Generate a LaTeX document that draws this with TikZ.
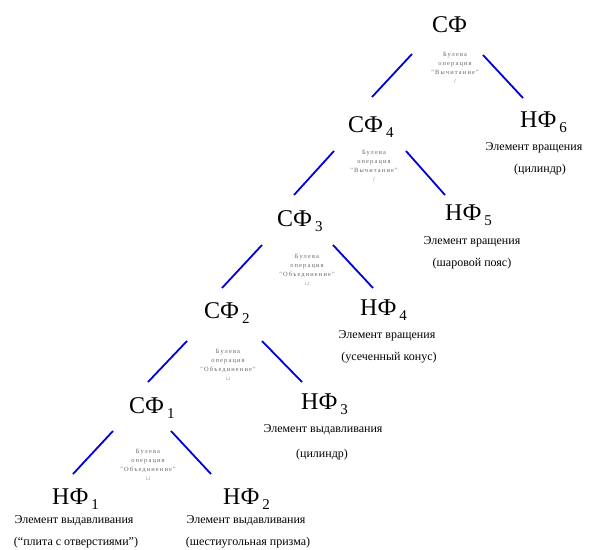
\documentclass[tikz,border=0pt]{standalone}
\usepackage{fontspec}
\setmainfont{Liberation Serif}
\newfontfamily\opfont[LetterSpace=18]{Liberation Serif}
\newcommand\subidx[1]{\hspace{3pt}\raisebox{-5.5pt}{\fontsize{15}{15}\selectfont #1}}
\begin{document}
\begin{tikzpicture}[x=1pt,y=-1pt,
  lbl/.style={inner sep=0pt, anchor=base west, font=\fontsize{24}{24}\selectfont},
  desc/.style={inner sep=0pt, anchor=base, font=\fontsize{12}{12}\selectfont},
  op/.style={inner sep=0pt, anchor=center, align=center, text=black!60, font=\opfont\fontsize{6.4}{9}\selectfont},
  edge/.style={draw=blue!85!black, line width=1.8pt}]
\useasboundingbox (0,0) rectangle (589,549);
\clip (0,0) rectangle (589,549);
% main labels
\node[lbl] (sf)  at (432,32)  {СФ};
\node[lbl] (sf4) at (348,132) {СФ\subidx{4}};
\node[lbl] (sf3) at (277,226) {СФ\subidx{3}};
\node[lbl] (sf2) at (204,318) {СФ\subidx{2}};
\node[lbl] (sf1) at (129,413) {СФ\subidx{1}};
\node[lbl] (nf6) at (520,127) {НФ\subidx{6}};
\node[lbl] (nf5) at (445,220) {НФ\subidx{5}};
\node[lbl] (nf4) at (360,315) {НФ\subidx{4}};
\node[lbl] (nf3) at (301,409) {НФ\subidx{3}};
\node[lbl] (nf1) at (52,504)  {НФ\subidx{1}};
\node[lbl] (nf2) at (223,504) {НФ\subidx{2}};
% descriptions
\node[desc] (d6a) at (534,150) {Элемент вращения};
\node[desc] (d6b) at (540,172) {(цилиндр)};
\node[desc] (d5a) at (472,244) {Элемент вращения};
\node[desc] (d5b) at (472,266) {(шаровой пояс)};
\node[desc] (d4a) at (387,338) {Элемент вращения};
\node[desc] (d4b) at (389,360) {(усеченный конус)};
\node[desc] (d3a) at (323,432) {Элемент выдавливания};
\node[desc] (d3b) at (322,457) {(цилиндр)};
\node[desc] (d1a) at (74,523)  {Элемент выдавливания};
\node[desc] (d1b) at (76,545)  {(“плита с отверстиями”)};
\node[desc] (d2a) at (246,523) {Элемент выдавливания};
\node[desc] (d2b) at (248,545) {(шестиугольная призма)};
% boolean operations
\node[op] (op0) at (455,68)  {Булева\\операция\\"Вычитание"\\/};
\node[op] (op4) at (374,166) {Булева\\операция\\"Вычитание"\\/};
\node[op] (op3) at (307,270) {Булева\\операция\\"Объединение"\\$\cup$};
\node[op] (op2) at (228,365) {Булева\\операция\\"Объединение"\\$\cup$};
\node[op] (op1) at (148,465) {Булева\\операция\\"Объединение"\\$\cup$};
% connector end points
\coordinate (a0l) at (412,54);  \coordinate (b0l) at (372,97);
\coordinate (a0r) at (483,55);  \coordinate (b0r) at (523,98);
\coordinate (a4l) at (334,151); \coordinate (b4l) at (294,195);
\coordinate (a4r) at (406,151); \coordinate (b4r) at (445,195);
\coordinate (a3l) at (262,245); \coordinate (b3l) at (222,288);
\coordinate (a3r) at (333,245); \coordinate (b3r) at (373,288);
\coordinate (a2l) at (187,341); \coordinate (b2l) at (148,382);
\coordinate (a2r) at (262,341); \coordinate (b2r) at (302,382);
\coordinate (a1l) at (113,431); \coordinate (b1l) at (73,474);
\coordinate (a1r) at (171,431); \coordinate (b1r) at (211,474);
\draw[edge] (a0l) -- (b0l);
\draw[edge] (a0r) -- (b0r);
\draw[edge] (a4l) -- (b4l);
\draw[edge] (a4r) -- (b4r);
\draw[edge] (a3l) -- (b3l);
\draw[edge] (a3r) -- (b3r);
\draw[edge] (a2l) -- (b2l);
\draw[edge] (a2r) -- (b2r);
\draw[edge] (a1l) -- (b1l);
\draw[edge] (a1r) -- (b1r);
\end{tikzpicture}
\end{document}
